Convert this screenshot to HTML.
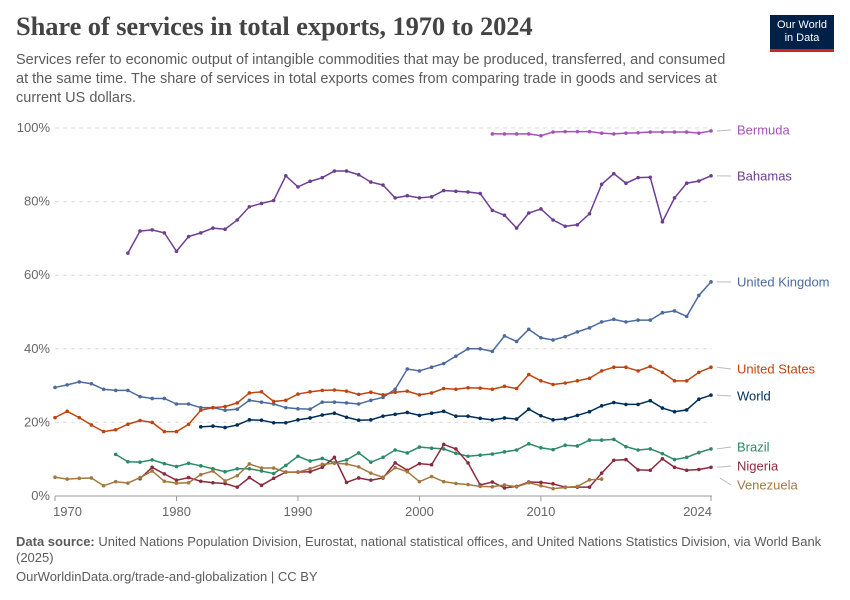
<!DOCTYPE html>
<html><head><meta charset="utf-8"><style>
body{margin:0;background:#fff;font-family:"Liberation Sans",sans-serif;}
#w{position:relative;width:850px;height:600px;overflow:hidden}
h1{position:absolute;left:16px;top:11px;margin:0;font-family:"Liberation Serif",serif;font-weight:bold;font-size:26.5px;color:#444;letter-spacing:-0.1px}
.sub{position:absolute;left:16px;top:51px;width:720px;font-size:14.5px;line-height:19px;color:#5b5b5b}
.logo{position:absolute;left:770px;top:15px;width:64px;height:37px;background:#002147;color:#fff;font-size:11px;line-height:13px;text-align:center;padding-top:4px;box-sizing:border-box;border-bottom:3px solid #ce261e}
.foot{position:absolute;left:16px;font-size:13px;color:#5b5b5b;line-height:16px}
</style></head><body><div id="w">
<h1>Share of services in total exports, 1970 to 2024</h1>
<div class="sub">Services refer to economic output of intangible commodities that may be produced, transferred, and consumed at the same time. The share of services in total exports comes from comparing trade in goods and services at current US dollars.</div>
<div class="logo">Our World<br>in Data</div>
<svg id="c" width="850" height="600" style="position:absolute;left:0;top:0"></svg>
<div class="foot" style="top:534px;width:825px"><b>Data source:</b> United Nations Population Division, Eurostat, national statistical offices, and United Nations Statistics Division, via World Bank (2025)</div>
<div class="foot" style="top:569px">OurWorldinData.org/trade-and-globalization | CC BY</div>
</div>
<script>
const X=y=>55+(y-1970)*12.148, Y=v=>496-v*3.68;
let s='';
for(const g of [20,40,60,80,100]) s+=`<line x1="55" x2="712" y1="${Y(g)}" y2="${Y(g)}" stroke="#ddd" stroke-dasharray="4,4"/><text x="50" y="${Y(g)+4}" text-anchor="end" font-size="13" fill="#666">${g}%</text>`;
s+=`<line x1="55" x2="712" y1="496" y2="496" stroke="#999"/><text x="50" y="500" text-anchor="end" font-size="13" fill="#666">0%</text>`;
for(const t of [1970,1980,1990,2000,2010,2024]){const x=X(t);s+=`<line x1="${x}" x2="${x}" y1="496" y2="501" stroke="#999"/><text x="${t==1970?x-2:t==2024?x+1:x}" y="516" text-anchor="${t==1970?'start':t==2024?'end':'middle'}" font-size="13" fill="#666">${t}</text>`;}
const S=[
["Bermuda","#a652ba",2006,[98.4,98.4,98.4,98.4,97.9,98.9,99,99,99,98.6,98.4,98.6,98.7,98.9,98.9,98.9,98.9,98.6,99.2],130],
["Bahamas","#6d3e91",1976,[66,72,72.3,71.5,66.5,70.5,71.5,72.8,72.5,75,78.6,79.5,80.3,87,84,85.5,86.5,88.3,88.3,87.3,85.3,84.5,81,81.6,81,81.3,83,82.8,82.6,82.2,77.6,76.3,72.8,76.9,78,75,73.3,73.7,76.7,84.7,87.6,85,86.5,86.6,74.5,81,85,85.6,87],176],
["United Kingdom","#4c6a9c",1970,[29.5,30.2,31,30.5,29,28.7,28.7,27,26.5,26.5,25,25,24,24,23.3,23.6,26,25.5,25,24,23.7,23.6,25.5,25.5,25.3,25,26,26.8,29,34.5,34,35,36,38,40,40,39.3,43.5,42,45.3,43,42.4,43.3,44.6,45.7,47.3,48,47.3,47.8,47.8,49.8,50.3,48.8,54.5,58.2],282],
["United States","#c1440e",1970,[21.3,23,21.3,19.3,17.5,18,19.5,20.5,20,17.5,17.5,19.5,23.3,24,24.3,25.3,28,28.3,25.7,26,27.7,28.3,28.7,28.8,28.5,27.6,28.2,27.5,28.2,28.5,27.5,28,29.2,29,29.4,29.3,29,29.8,29.2,33,31.3,30.3,30.7,31.3,32,34,35,35,34,35.2,33.6,31.3,31.3,33.6,35],369],
["World","#002e5b",1982,[18.8,19,18.6,19.3,20.7,20.6,19.9,19.9,20.7,21.2,22,22.5,21.4,20.6,20.7,21.7,22.2,22.7,21.9,22.5,23,21.7,21.7,21.1,20.7,21.2,20.9,23.6,21.8,20.7,21,21.9,22.9,24.5,25.4,24.9,24.9,25.9,23.9,22.9,23.4,26.3,27.4],396],
["Brazil","#2d8a68",1975,[11.3,9.3,9.2,9.8,8.8,8,8.9,8.2,7.4,6.6,7.4,7.4,6.8,6.1,8.3,10.8,9.5,10.2,9,9.8,11.7,9.2,10.5,12.5,11.7,13.3,13,12.8,11.6,10.8,11.1,11.4,12,12.5,14.2,13.1,12.6,13.8,13.6,15.2,15.2,15.4,13.4,12.5,12.8,11.5,9.9,10.5,11.8,12.8],447],
["Nigeria","#8b2a3e",1977,[4.7,7.8,6,4.3,5,4,3.6,3.4,2.4,5,2.9,4.8,6.5,6.5,6.6,7.8,10.5,3.7,4.9,4.3,4.9,9,7,8.8,8.5,14,12.8,9,3,3.8,2.2,2.6,3.8,3.7,3.3,2.4,2.4,2.4,6.2,9.7,9.9,7.1,7,10.1,7.8,7,7.2,7.8],466],
["Venezuela","#a5783d",1970,[5.1,4.6,4.8,4.9,2.8,3.9,3.5,5,6.8,4,3.5,3.6,5.8,6.8,4.1,5.5,8.7,7.6,7.6,6.5,6.5,7.4,8.6,8.9,8.7,7.9,6.2,5.1,7.7,6.6,3.9,5.3,3.9,3.4,3.1,2.6,2.5,3,2.5,3.6,2.8,2,2.3,2.6,4.4,4.6],485]];
for(const [n,c,st,d,ly] of S){
 const pts=d.map((v,i)=>[X(st+i),Y(v)]);
 s+=`<polyline fill="none" stroke="${c}" stroke-width="1.5" points="${pts.map(p=>p.join(',')).join(' ')}"/>`;
 for(const p of pts) s+=`<circle cx="${p[0]}" cy="${p[1]}" r="1.8" fill="${c}"/>`;
 const last=pts[pts.length-1];
 s+=`<line x1="${n=='Venezuela'?720:717}" y1="${n=='Venezuela'?478:last[1]}" x2="731" y2="${ly}" stroke="#bbb"/>`;
 s+=`<text x="737" y="${ly+4.5}" font-size="13" fill="${c}">${n}</text>`;
}
document.getElementById('c').innerHTML=s;
</script>
</body></html>
